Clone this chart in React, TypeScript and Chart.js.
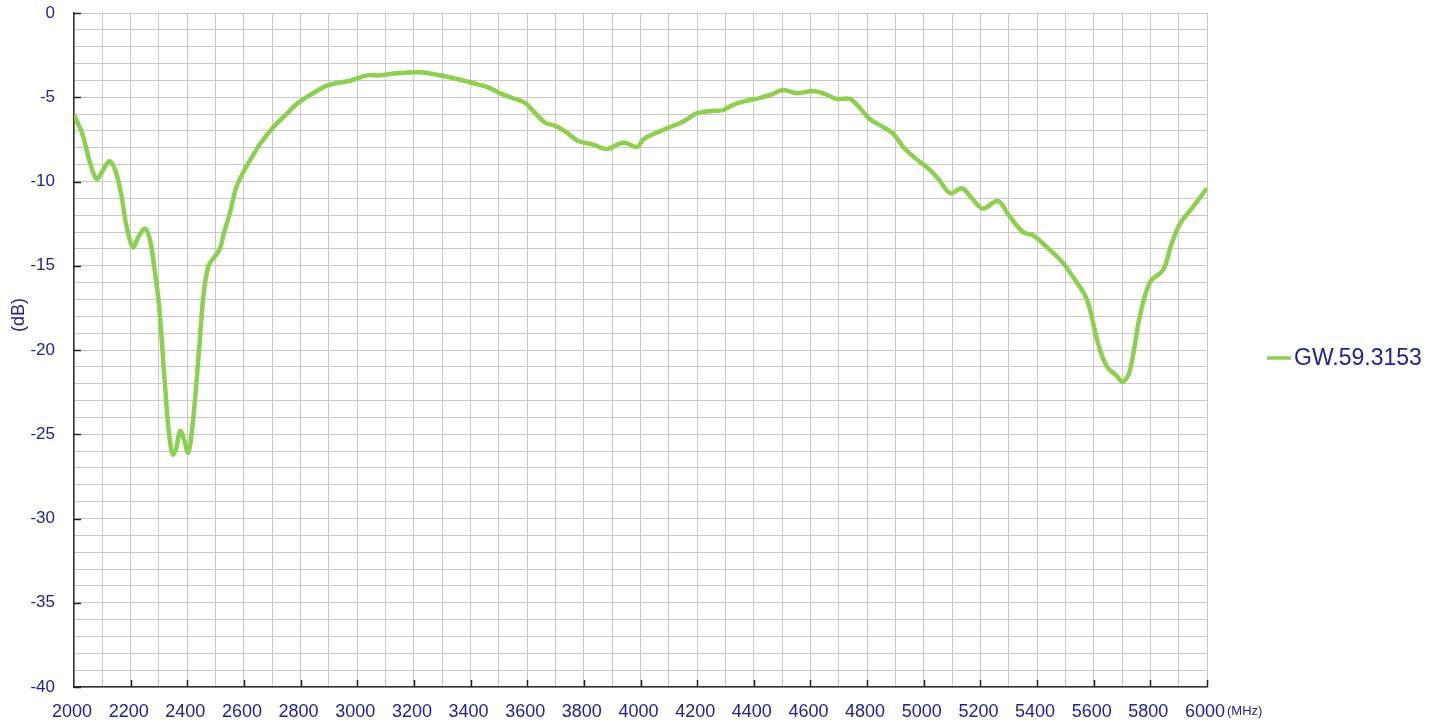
import React, { useEffect, useRef } from "react";
import { Chart, registerables } from "chart.js";

Chart.register(...registerables);

const freqsMHz = [
  2000, 2030, 2055, 2080, 2100, 2125, 2145, 2165, 2185, 2208, 2230, 2252, 2270, 2285, 2300,
  2320, 2335, 2348, 2360, 2375, 2390, 2403, 2415, 2432, 2445, 2458, 2475, 2495, 2515, 2530,
  2550, 2570, 2590, 2630, 2660, 2700, 2750, 2790, 2850, 2900, 2975, 3035, 3080, 3140, 3220,
  3300, 3360, 3410, 3460, 3510, 3550, 3590, 3620, 3663, 3700, 3740, 3780, 3830, 3882, 3920,
  3945, 3988, 4010, 4050, 4100, 4150, 4200, 4250, 4291, 4320, 4351, 4420, 4460, 4503, 4553,
  4609, 4650, 4694, 4740, 4775, 4810, 4850, 4891, 4930, 4976, 5011, 5050, 5093, 5135, 5170,
  5209, 5262, 5300, 5350, 5386, 5446, 5490, 5527, 5576, 5615, 5647, 5680, 5703, 5728, 5763,
  5799, 5845, 5875, 5905, 5951, 6000,
];

const gw593153 = [
  -6.05, -7.2, -8.8, -9.85, -9.4, -8.8, -9.3, -10.6, -12.6, -13.9, -13.2, -12.8, -13.6, -15.3, -17.3,
  -21.8, -24.9, -26.2, -25.9, -24.8, -25.4, -26.1, -25.0, -22.0, -19.2, -16.6, -15.0, -14.5, -14.0, -13.0,
  -11.9, -10.5, -9.7, -8.5, -7.7, -6.85, -6.0, -5.35, -4.7, -4.27, -4.02, -3.7, -3.7, -3.58, -3.52,
  -3.72, -3.95, -4.17, -4.4, -4.8, -5.06, -5.3, -5.8, -6.5, -6.7, -7.1, -7.6, -7.8, -8.07, -7.8,
  -7.7, -7.95, -7.5, -7.15, -6.8, -6.45, -5.94, -5.82, -5.76, -5.5, -5.3, -5.05, -4.85, -4.57, -4.76,
  -4.63, -4.8, -5.1, -5.1, -5.65, -6.3, -6.7, -7.15, -8.0, -8.7, -9.15, -9.8, -10.7, -10.4, -11.0,
  -11.6, -11.16, -12.0, -13.0, -13.2, -14.07, -14.8, -15.67, -17.0, -19.6, -21.0, -21.5, -21.9, -21.2, -18.0,
  -15.96, -15.25, -13.7, -12.5, -11.5, -10.4,
];

const seriesName = "GW.59.3153";
const xMin = 2000;
const xMax = 6000;
const xStep = 100;
const xLabelStep = 200;
const yMin = -40;
const yMax = 0;
const yStep = 1;
const yLabelStep = 5;
const xUnit = "(MHz)";
const yTitle = "(dB)";

const LINE_COLOR = "#8cd04f";
const TEXT_COLOR = "#22228f";
const FONT = "'Liberation Sans', Arial, sans-serif";

const overlayPlugin = {
  id: "overlay",
  afterDatasetsDraw(chart: any) {
    const { ctx, chartArea, scales } = chart;
    const xs = scales.x;
    const ys = scales.y;
    ctx.save();
    // inside major ticks
    ctx.strokeStyle = "#222";
    ctx.lineWidth = 1.5;
    for (let v = yMin; v <= yMax; v += yLabelStep) {
      const py = Math.round(ys.getPixelForValue(v)) + 0.5;
      ctx.beginPath();
      ctx.moveTo(chartArea.left, py);
      ctx.lineTo(chartArea.left + 7, py);
      ctx.stroke();
    }
    for (let v = xMin + xLabelStep; v <= xMax; v += xLabelStep) {
      const px = Math.round(xs.getPixelForValue(v)) + 0.5;
      ctx.beginPath();
      ctx.moveTo(px, chartArea.bottom);
      ctx.lineTo(px, chartArea.bottom - 7);
      ctx.stroke();
    }
    // x unit
    ctx.fillStyle = TEXT_COLOR;
    ctx.font = `13px ${FONT}`;
    ctx.textAlign = "left";
    ctx.textBaseline = "middle";
    ctx.fillText(xUnit, chartArea.right + 20, 711);
    // y title
    ctx.save();
    ctx.translate(19, 315);
    ctx.rotate(-Math.PI / 2);
    ctx.font = `18px ${FONT}`;
    ctx.textAlign = "center";
    ctx.textBaseline = "middle";
    ctx.fillText(yTitle, 0, 0);
    ctx.restore();
    // legend
    ctx.strokeStyle = LINE_COLOR;
    ctx.lineWidth = 3.5;
    ctx.beginPath();
    ctx.moveTo(1267, 358);
    ctx.lineTo(1291, 358);
    ctx.stroke();
    ctx.font = `23px ${FONT}`;
    ctx.textAlign = "left";
    ctx.textBaseline = "middle";
    ctx.fillText(seriesName, 1294, 359);
    ctx.restore();
  },
};

export default function App() {
  const ref = useRef<HTMLCanvasElement | null>(null);

  useEffect(() => {
    if (!ref.current) return;
    const points = freqsMHz.map((f, i) => ({ x: f, y: gw593153[i] }));
    const chart = new Chart(ref.current, {
      type: "line",
      data: {
        datasets: [
          {
            label: seriesName,
            data: points,
            borderColor: LINE_COLOR,
            backgroundColor: LINE_COLOR,
            borderWidth: 4.5,
            pointRadius: 0,
            tension: 0.35,
            fill: false,
          },
        ],
      },
      options: {
        responsive: false,
        animation: false,
        devicePixelRatio: 1,
        layout: { padding: { top: 13, right: 233, bottom: 0, left: 0 } },
        plugins: {
          legend: { display: false },
          tooltip: { enabled: false },
        },
        scales: {
          x: {
            type: "linear",
            min: xMin,
            max: xMax,
            afterFit: (s: any) => {
              s.height = 37;
              s.paddingLeft = 0;
              s.paddingRight = 0;
            },
            grid: { color: "#c8c8c8", lineWidth: 1, drawTicks: false },
            border: { display: true, color: "#333", width: 1.5 },
            ticks: {
              stepSize: xStep,
              autoSkip: false,
              maxRotation: 0,
              minRotation: 0,
              padding: 14,
              labelOffset: -2,
              color: TEXT_COLOR,
              font: { family: FONT, size: 18 },
              callback: (v: any) => (Number(v) % xLabelStep === 0 ? String(v) : ""),
            },
          },
          y: {
            type: "linear",
            min: yMin,
            max: yMax,
            afterFit: (s: any) => {
              s.width = 74;
              s.paddingTop = 0;
              s.paddingBottom = 0;
            },
            grid: { color: "#c8c8c8", lineWidth: 1, drawTicks: false },
            border: { display: true, color: "#333", width: 1.5 },
            ticks: {
              stepSize: yStep,
              autoSkip: false,
              padding: 19,
              color: TEXT_COLOR,
              font: { family: FONT, size: 17 },
              callback: (v: any) => (Number(v) % yLabelStep === 0 ? String(Number(v) === 0 ? 0 : v) : ""),
            },
          },
        },
      },
      plugins: [overlayPlugin],
    });
    return () => chart.destroy();
  }, []);

  return (
    <div style={{ position: "fixed", left: 0, top: 0, width: 1440, height: 724, background: "#fff" }}>
      <canvas ref={ref} width={1440} height={724} style={{ display: "block" }} />
    </div>
  );
}
